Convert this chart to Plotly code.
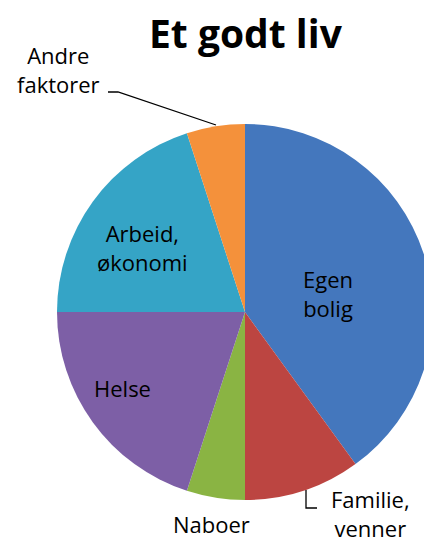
import plotly.graph_objects as go

# Data
categories = ["Egen bolig", "Familie, venner", "Naboer", "Helse", "Arbeid, økonomi", "Andre faktorer"]
values = [40, 10, 5, 20, 20, 5]
colors = ["#4477BD", "#BC4541", "#8AB443", "#7D5FA6", "#35A4C6", "#F4913B"]
title_text = "Et godt liv"

W, H = 440, 545
FONT = "'Open Sans', Lato, sans-serif"

fig = go.Figure()
fig.add_trace(go.Pie(
    labels=categories,
    values=values,
    sort=False,
    direction="clockwise",
    rotation=0,
    marker=dict(colors=colors, line=dict(width=0)),
    textinfo="none",
    hoverinfo="label+percent",
    showlegend=False,
    domain=dict(x=[57 / W, 433 / W], y=[(H - 500) / H, (H - 124) / H]),
))

# Label annotations (pixel coordinates via hidden axes)
labels_pos = [
    ("Egen<br>bolig", 328, 293),
    ("Arbeid,<br>økonomi", 142, 247),
    ("Helse", 122, 388),
    ("Naboer", 211, 524),
    ("Familie,<br>venner", 370, 513),
    ("Andre<br>faktorer", 58, 69),
]
annotations = []
for txt, x, y in labels_pos:
    annotations.append(dict(
        text=txt, x=x, y=y, xref="x", yref="y", showarrow=False,
        font=dict(family=FONT, size=22, color="#000000"),
        xanchor="center", yanchor="middle", align="center",
    ))
annotations.append(dict(
    text="<b>" + title_text + "</b>", x=246, y=32, xref="x", yref="y",
    showarrow=False, font=dict(family=FONT, size=39, color="#000000"),
    xanchor="center", yanchor="middle",
))

shapes = [
    dict(type="path", xref="x", yref="y",
         path="M 108 92 L 118 92 L 216 125",
         line=dict(color="#000000", width=1.3)),
    dict(type="path", xref="x", yref="y",
         path="M 306 490 L 306 508 L 317 508",
         line=dict(color="#000000", width=1.3)),
]

fig.update_layout(
    width=W, height=H,
    margin=dict(l=0, r=0, t=0, b=0),
    paper_bgcolor="#FFFFFF", plot_bgcolor="rgba(0,0,0,0)",
    xaxis=dict(range=[0, W], visible=False, fixedrange=True),
    yaxis=dict(range=[H, 0], visible=False, fixedrange=True),
    annotations=annotations,
    shapes=shapes,
)

fig.write_html("out.html", post_script="document.documentElement.style.overflow='hidden';document.body.style.overflow='hidden';document.body.style.margin='0';")
